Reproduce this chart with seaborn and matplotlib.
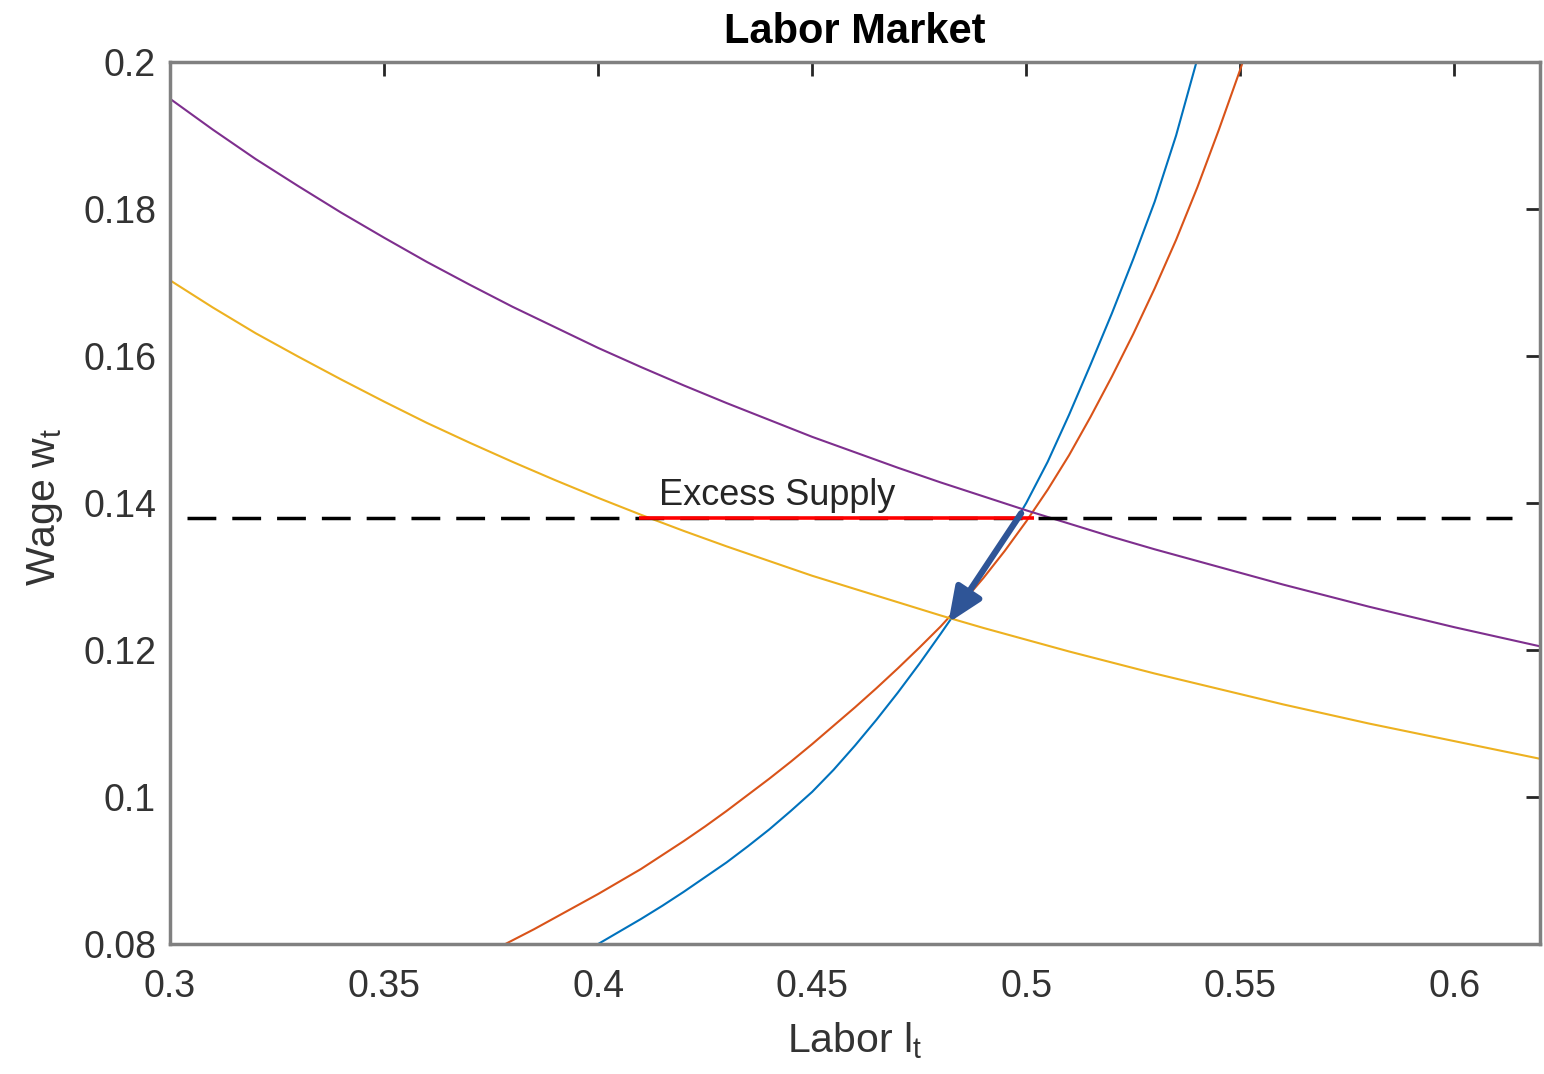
import matplotlib
matplotlib.use("Agg")
import matplotlib.pyplot as plt
import seaborn as sns

# ---- data -------------------------------------------------------------
# labour supply, initial (blue)
supply_a_l = [0.400, 0.405, 0.410, 0.415, 0.420, 0.425, 0.430, 0.435, 0.440,
              0.445, 0.450, 0.455, 0.460, 0.465, 0.470, 0.475, 0.480, 0.485,
              0.490, 0.495, 0.500, 0.505, 0.510, 0.515, 0.520, 0.525, 0.530,
              0.535, 0.540, 0.545, 0.550]
supply_a_w = [0.0800, 0.0817, 0.0834, 0.0852, 0.0871, 0.0891, 0.0911, 0.0933,
              0.0956, 0.0981, 0.1007, 0.1037, 0.1070, 0.1105, 0.1142, 0.1181,
              0.1222, 0.1264, 0.1305, 0.1351, 0.1400, 0.1456, 0.1520, 0.1588,
              0.1658, 0.1732, 0.1810, 0.1900, 0.2005, 0.2125, 0.2260]

# labour supply, shifted (orange)
supply_b_l = [0.370, 0.375, 0.380, 0.385, 0.390, 0.395, 0.400, 0.405, 0.410,
              0.415, 0.420, 0.425, 0.430, 0.435, 0.440, 0.445, 0.450, 0.455,
              0.460, 0.465, 0.470, 0.475, 0.480, 0.485, 0.490, 0.495, 0.500,
              0.505, 0.510, 0.515, 0.520, 0.525, 0.530, 0.535, 0.540, 0.545,
              0.550, 0.555, 0.560]
supply_b_w = [0.0776, 0.0790, 0.0805, 0.0820, 0.0836, 0.0852, 0.0868, 0.0885,
              0.0902, 0.0921, 0.0940, 0.0960, 0.0981, 0.1003, 0.1025, 0.1048,
              0.1072, 0.1097, 0.1122, 0.1148, 0.1175, 0.1203, 0.1232, 0.1264,
              0.1298, 0.1335, 0.1375, 0.1418, 0.1465, 0.1517, 0.1572, 0.1630,
              0.1692, 0.1758, 0.1830, 0.1908, 0.1990, 0.2078, 0.2170]

# labour demand, low (yellow) and high (purple)
demand_l = [0.30, 0.31, 0.32, 0.33, 0.34, 0.35, 0.36, 0.37, 0.38, 0.39, 0.40,
            0.41, 0.42, 0.43, 0.44, 0.45, 0.46, 0.47, 0.48, 0.49, 0.50, 0.51,
            0.52, 0.53, 0.54, 0.55, 0.56, 0.57, 0.58, 0.59, 0.60, 0.61, 0.62]
demand_low_w = [0.1703, 0.1666, 0.1631, 0.1599, 0.1568, 0.1538, 0.1509, 0.1482,
                0.1456, 0.1431, 0.1407, 0.1384, 0.1362, 0.1341, 0.1321, 0.1301,
                0.1283, 0.1265, 0.1247, 0.1230, 0.1214, 0.1198, 0.1183, 0.1168,
                0.1154, 0.1140, 0.1126, 0.1113, 0.1100, 0.1088, 0.1076, 0.1064,
                0.1052]
demand_high_w = [0.1950, 0.1908, 0.1868, 0.1831, 0.1795, 0.1761, 0.1728, 0.1697,
                 0.1667, 0.1639, 0.1611, 0.1585, 0.1560, 0.1536, 0.1513, 0.1490,
                 0.1469, 0.1448, 0.1428, 0.1409, 0.1390, 0.1372, 0.1354, 0.1337,
                 0.1321, 0.1305, 0.1289, 0.1274, 0.1259, 0.1245, 0.1231, 0.1218,
                 0.1205]

# sticky wage level and the gap between labour supplied and demanded
wage_fixed = 0.138
wage_line_l = [0.304, 0.6135]
excess_l = [0.4096, 0.5017]

# adjustment arrow (start -> end)
arrow_from = (0.4988, 0.1386)
arrow_to = (0.4818, 0.1237)

x_ticks = [0.30, 0.35, 0.40, 0.45, 0.50, 0.55, 0.60]
x_tick_labels = ["0.3", "0.35", "0.4", "0.45", "0.5", "0.55", "0.6"]
y_ticks = [0.08, 0.10, 0.12, 0.14, 0.16, 0.18, 0.20]
y_tick_labels = ["0.08", "0.1", "0.12", "0.14", "0.16", "0.18", "0.2"]

# ---- style ------------------------------------------------------------
sns.set_theme(style="white")
plt.rcParams["font.family"] = ["Liberation Sans", "DejaVu Sans"]
plt.rcParams["mathtext.fontset"] = "custom"
plt.rcParams["mathtext.rm"] = "Liberation Sans"
plt.rcParams["mathtext.it"] = "Liberation Sans"

C_BLUE = "#0072BD"
C_ORANGE = "#D95319"
C_YELLOW = "#EDB120"
C_PURPLE = "#7E2F8E"
TXT = "#262626"

fig = plt.figure(figsize=(15.44, 10.74), dpi=100)
ax = fig.add_axes([170 / 1544, 1 - 944 / 1074, 1370 / 1544, 882 / 1074])

lw = 1.5
sns.lineplot(x=supply_a_l, y=supply_a_w, color=C_BLUE, linewidth=lw, ax=ax)
sns.lineplot(x=supply_b_l, y=supply_b_w, color=C_ORANGE, linewidth=lw, ax=ax)
sns.lineplot(x=demand_l, y=demand_low_w, color=C_YELLOW, linewidth=lw, ax=ax)
sns.lineplot(x=demand_l, y=demand_high_w, color=C_PURPLE, linewidth=lw, ax=ax)

ax.plot(wage_line_l, [wage_fixed, wage_fixed], color="black", linewidth=2.5,
        linestyle=(0, (8.3, 4.6)))
ax.plot(excess_l, [wage_fixed, wage_fixed], color="#FF0000", linewidth=2.6,
        solid_capstyle="butt")

ax.annotate("", xy=arrow_to, xytext=arrow_from,
            arrowprops=dict(arrowstyle="-|>,head_length=0.7,head_width=0.3",
                            color="#2F5597", lw=4.5, shrinkA=0, shrinkB=0,
                            mutation_scale=30))

ax.text(0.4143, 0.1397, "Excess Supply", fontsize=26, color=TXT,
        ha="left", va="baseline")

ax.set_xlim(0.3, 0.62)
ax.set_ylim(0.08, 0.2)
ax.set_xticks(x_ticks)
ax.set_xticklabels(x_tick_labels)
ax.set_yticks(y_ticks)
ax.set_yticklabels(y_tick_labels)

ax.tick_params(axis="both", direction="in", length=10, width=2,
               color=TXT, labelcolor="#333333", labelsize=27,
               top=True, right=True)
ax.tick_params(axis="x", pad=18)
ax.tick_params(axis="y", pad=10)

for sp in ax.spines.values():
    sp.set_visible(True)
    sp.set_color("#808080")
    sp.set_linewidth(2.5)

ax.set_title("Labor Market", fontsize=30, fontweight="bold", color="black",
             pad=14)
ax.set_xlabel(r"Labor l$_\mathrm{t}$", fontsize=29.5, color="#333333",
              labelpad=11)
ax.set_ylabel(r"Wage w$_\mathrm{t}$", fontsize=29.5, color="#333333")
ax.yaxis.set_label_coords(-0.077, 0.495)

fig.savefig("out.png", dpi=100, facecolor="white")
